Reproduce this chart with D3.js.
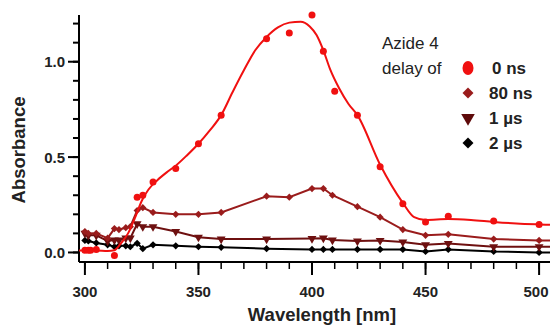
<!DOCTYPE html>
<html>
<head>
<meta charset="utf-8">
<script src="https://cdn.jsdelivr.net/npm/d3@7"></script>
<style>
  body { margin: 0; background: #fff; }
  text { font-family: "Liberation Sans", Arial, sans-serif; }
</style>
</head>
<body>
<div class="canvas"></div>
<script>
// data: [wavelength nm, absorbance]
const ns0 = [[300,0.012],[301.5,0.012],[302.5,0.012],[305,0.015],[313,-0.016],[323,0.29],[325.5,0.30],[330,0.37],[340,0.44],[350,0.57],[360,0.72],[380,1.12],[390,1.15],[400,1.245],[405,1.055],[410,0.845],[420,0.72],[430,0.45],[440,0.255],[450,0.16],[460,0.19],[480,0.165],[500,0.147]];
const ns0Fit = [[297.4,0.01],[305,0.01],[310,0.008],[313,0.012],[316,0.05],[319,0.10],[322,0.18],[325,0.27],[328,0.33],[332,0.38],[336,0.42],[340,0.455],[345,0.51],[350,0.57],[355,0.64],[360,0.72],[365,0.84],[370,0.955],[375,1.06],[380,1.13],[385,1.18],[390,1.205],[395,1.21],[399,1.185],[402,1.14],[405,1.06],[408,0.96],[412,0.86],[416,0.78],[420,0.72],[430,0.46],[440,0.26],[445,0.185],[450,0.17],[460,0.175],[470,0.17],[480,0.16],[490,0.152],[500,0.147],[504.8,0.145]];
const ns80 = [[300,0.11],[301.5,0.10],[305,0.10],[310,0.075],[313,0.125],[315,0.12],[318,0.13],[320,0.135],[323,0.22],[325.5,0.235],[330,0.21],[340,0.20],[350,0.20],[360,0.21],[380,0.295],[390,0.29],[400,0.335],[405,0.335],[409,0.30],[420,0.24],[430,0.185],[440,0.12],[450,0.09],[460,0.095],[480,0.07],[500,0.063],[504.8,0.063]];
const us1 = [[300,0.10],[301.5,0.09],[305,0.09],[310,0.06],[313,0.065],[315,0.065],[318,0.075],[320,0.075],[323,0.15],[325.5,0.135],[330,0.135],[340,0.11],[350,0.08],[360,0.07],[380,0.07],[400,0.073],[405,0.075],[409,0.065],[420,0.06],[430,0.063],[440,0.055],[450,0.04],[460,0.047],[480,0.03],[500,0.03],[504.8,0.03]];
const us2 = [[300,0.063],[301.5,0.06],[305,0.05],[310,0.04],[313,0.03],[315,0.035],[318,0.035],[320,0.03],[323,0.048],[325.5,0.02],[330,0.04],[340,0.035],[350,0.03],[360,0.027],[380,0.02],[400,0.016],[405,0.016],[409,0.016],[420,0.016],[430,0.016],[440,0.016],[450,0.005],[460,0.016],[480,0.005],[500,0.0],[504.8,0.0]];

const xTicks = [300, 350, 400, 450, 500];
const xMinor = d3.range(300, 505, 10);
const yTicks = [0.0, 0.5, 1.0];
const yMinor = d3.range(0, 1.25, 0.1);
const legendLabels = ['0 ns', '80 ns', '1 \u00b5s', '2 \u00b5s'];

const W = 550, H = 326;
const svg = d3.select('.canvas')
  .append('svg')
  .attr('width', W)
  .attr('height', H);

const x = d3.scaleLinear().domain([297.4, 504.8]).range([79, 550]);
const y = d3.scaleLinear().domain([-0.05, 1.245]).range([262, 15]);

// axes
const xAxisGroup = svg.append('g').attr('transform', `translate(0,262)`);
xAxisGroup.append('line').attr('x1', 79).attr('x2', 550).attr('stroke', '#000').attr('stroke-width', 2);
xAxisGroup.selectAll('.minor').data(xMinor).enter().append('line')
  .attr('x1', d => x(d)).attr('x2', d => x(d)).attr('y1', -1).attr('y2', 7)
  .attr('stroke', '#000').attr('stroke-width', 1.5);
xAxisGroup.selectAll('.major').data(xTicks).enter().append('line')
  .attr('x1', d => x(d)).attr('x2', d => x(d)).attr('y1', -1).attr('y2', 13)
  .attr('stroke', '#000').attr('stroke-width', 2);
// last label sits against the right edge, as in the original
xAxisGroup.selectAll('text').data(xTicks).enter().append('text')
  .attr('x', d => Math.min(x(d), 536)).attr('y', 35)
  .attr('text-anchor', 'middle')
  .attr('font-size', 15).attr('font-weight', 'bold').attr('fill', '#222')
  .text(d => d);

const yAxisGroup = svg.append('g').attr('transform', `translate(79,0)`);
yAxisGroup.append('line').attr('y1', 15).attr('y2', 262).attr('stroke', '#000').attr('stroke-width', 2);
yAxisGroup.selectAll('.minor').data(yMinor).enter().append('line')
  .attr('y1', d => y(d)).attr('y2', d => y(d)).attr('x1', -6).attr('x2', 0)
  .attr('stroke', '#000').attr('stroke-width', 2);
yAxisGroup.selectAll('.major').data(yTicks).enter().append('line')
  .attr('y1', d => y(d)).attr('y2', d => y(d)).attr('x1', -11).attr('x2', 0)
  .attr('stroke', '#000').attr('stroke-width', 2);
yAxisGroup.selectAll('text').data(yTicks).enter().append('text')
  .attr('x', -14).attr('y', d => y(d) + 5.5)
  .attr('text-anchor', 'end')
  .attr('font-size', 15).attr('font-weight', 'bold').attr('fill', '#222')
  .text(d => d.toFixed(1));

svg.append('text')
  .attr('x', 322).attr('y', 321)
  .attr('text-anchor', 'middle')
  .attr('font-size', 18.5).attr('font-weight', 'bold').attr('fill', '#222')
  .text('Wavelength [nm]');
svg.append('text')
  .attr('transform', 'translate(25,150) rotate(-90)')
  .attr('text-anchor', 'middle')
  .attr('font-size', 18.5).attr('font-weight', 'bold').attr('fill', '#222')
  .text('Absorbance');

// series
const line = d3.line().x(d => x(d[0])).y(d => y(d[1]));
const smooth = d3.line().x(d => x(d[0])).y(d => y(d[1])).curve(d3.curveMonotoneX);

const diamond = d3.symbol().type(d3.symbolSquare).size(26);
const tri = d3.symbol().type(d3.symbolTriangle).size(34);

function drawSeries(data, color, path, rot) {
  const g = svg.append('g');
  g.append('path').datum(data)
    .attr('d', line)
    .attr('fill', 'none').attr('stroke', color).attr('stroke-width', 2);
  g.selectAll('path.pt').data(data.filter(d => d[0] <= 500)).enter().append('path')
    .attr('class', 'pt')
    .attr('d', path)
    .attr('transform', d => `translate(${x(d[0])},${y(d[1])}) rotate(${rot})`)
    .attr('fill', color);
}

drawSeries(us2, '#000', diamond, 45);
drawSeries(us1, '#6e1010', tri, 180);
drawSeries(ns80, '#9a1c1c', diamond, 45);

const redG = svg.append('g');
redG.append('path').datum(ns0Fit)
  .attr('d', smooth)
  .attr('fill', 'none').attr('stroke', '#f01010').attr('stroke-width', 2);
redG.selectAll('circle').data(ns0).enter().append('circle')
  .attr('cx', d => x(d[0])).attr('cy', d => y(d[1])).attr('r', 3.5)
  .attr('fill', '#f01010');

// legend
svg.append('text').attr('x', 382).attr('y', 49).attr('font-size', 17).attr('fill', '#222').text('Azide 4');
svg.append('text').attr('x', 382).attr('y', 74).attr('font-size', 17).attr('fill', '#222').text('delay of');

const legendColors = ['#f01010', '#9a1c1c', '#5e0a0a', '#000'];
const ly = [68, 93, 118, 143];
const lg = svg.append('g');
lg.append('ellipse').attr('cx', 468).attr('cy', ly[0]).attr('rx', 5.5).attr('ry', 7).attr('fill', legendColors[0]);
lg.append('path').attr('d', d3.symbol().type(d3.symbolSquare).size(60)())
  .attr('transform', `translate(468,${ly[1]}) rotate(45)`).attr('fill', legendColors[1]);
lg.append('path').attr('d', d3.symbol().type(d3.symbolTriangle).size(80)())
  .attr('transform', `translate(468,${ly[2]}) rotate(180)`).attr('fill', legendColors[2]);
lg.append('path').attr('d', d3.symbol().type(d3.symbolSquare).size(60)())
  .attr('transform', `translate(468,${ly[3]}) rotate(45)`).attr('fill', legendColors[3]);
lg.selectAll('text').data(legendLabels).enter().append('text')
  .attr('x', (d, i) => i === 0 ? 492 : 489)
  .attr('y', (d, i) => ly[i] + 6)
  .attr('font-size', 17).attr('font-weight', 'bold').attr('fill', '#222')
  .text(d => d);
</script>
</body>
</html>
